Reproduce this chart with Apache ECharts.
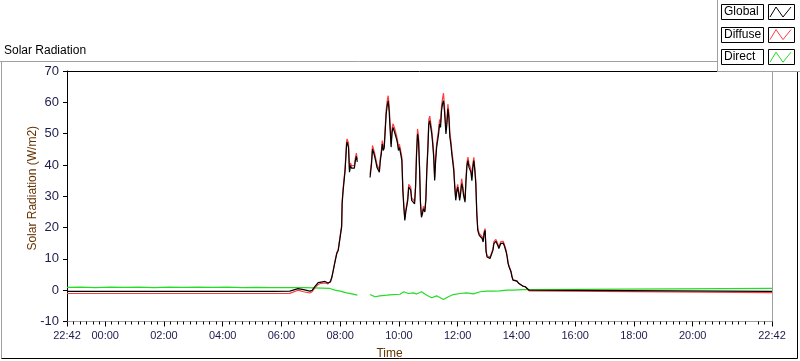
<!DOCTYPE html>
<html>
<head>
<meta charset="utf-8">
<script src="https://cdn.jsdelivr.net/npm/echarts@6/dist/echarts.min.js"></script>
<style>
  html, body { margin: 0; padding: 0; background: #fff; }
  #chart { width: 800px; height: 361px; }
</style>
</head>
<body>
<div id="chart"></div>
<script>
// sample times, minutes from midnight (22:42 of the day before = -78)
const globalTime = [-78, 343, 377, 394, 398, 405, 408, 418, 423, 429,
  435, 441, 449, 455, 460, 463, 466, 469, 473, 476,
  480, 483, 484, 486, 488, 490, 492, 493, 494, 497,
  499, 501, 503, 507, 509, 511, 513, 515, 528, 541,
  544, 546, 548, 550, 553, 555, 558, 560, 562, 564,
  566, 568, 570, 572, 574, 576, 578, 580, 582, 584,
  586, 588, 591, 593, 595, 597, 599, 601, 603, 606,
  608, 610, 612, 614, 616, 618, 620, 622, 624, 626,
  628, 630, 632, 634, 636, 638, 640, 642, 644, 646,
  648, 650, 653, 655, 657, 659, 661, 663, 665, 667,
  669, 671, 673, 675, 677, 679, 681, 683, 685, 687,
  689, 691, 693, 696, 698, 700, 702, 704, 706, 708,
  710, 712, 714, 716, 718, 720, 722, 724, 726, 728,
  730, 732, 735, 737, 739, 741, 743, 745, 747, 749,
  751, 753, 755, 757, 759, 761, 764, 766, 768, 770,
  772, 774, 776, 778, 780, 782, 784, 786, 788, 790,
  792, 794, 796, 798, 800, 802, 804, 806, 808, 811,
  813, 815, 817, 819, 821, 823, 825, 827, 829, 831,
  833, 837, 841, 845, 849, 853, 858, 862, 866, 870,
  1362];
const globalValues = [-0.35, -0.35, -0.3, 0.5, 0.2, 0.2, -0.4, -0.3, 0.0, 1.3,
  2.4, 2.6, 2.8, 2.3, 2.6, 4.2, 6.4, 8.7, 11.7, 12.7,
  17.0, 20.2, 27.6, 31.8, 35.0, 38.2, 43.5, 46.2, 47.3, 45.6,
  37.7, 39.8, 39.0, 39.3, 39.0, 41.4, 42.7, 41.0, null, 36.0,
  40.3, 45.1, 45.6, 43.0, 40.9, 39.3, 39.0, 37.7, 41.4, 43.5,
  46.7, 44.6, 45.5, 51.0, 56.3, 58.9, 60.5, 57.3, 51.5, 45.7,
  50.4, 52.0, 50.5, 49.4, 48.3, 47.0, 44.6, 45.6, 44.0, 41.4,
  31.8, 26.5, 22.3, 24.9, 25.0, 28.7, 32.9, 32.4, 32.0, 28.7,
  29.2, 28.7, 27.6, 32.9, 43.5, 49.9, 47.8, 39.3, 27.6, 23.3,
  24.4, 26.0, 25.0, 28.7, 38.2, 44.6, 53.1, 54.1, 52.0, 49.9,
  46.7, 42.5, 35.0, 41.4, 45.6, 46.0, 49.9, 53.1, 52.0, 57.3,
  59.5, 60.5, 57.3, 49.9, 53.1, 57.9, 55.2, 48.9, 46.7, 43.5,
  40.9, 38.2, 32.9, 28.7, 31.3, 32.9, 31.0, 28.7, 30.8, 34.0,
  32.9, 30.3, 28.1, 35.0, 39.8, 41.4, 39.3, 39.8, 37.7, 35.0,
  39.3, 41.4, 38.2, 34.0, 24.4, 19.1, 17.5, 17.0, 17.0, 16.5,
  15.4, 18.1, 19.1, 12.2, 10.6, 11.1, 10.6, 10.1, 9.6, 10.6,
  12.7, 14.9, 15.4, 15.6, 15.0, 14.3, 13.3, 13.8, 14.9, 15.0,
  15.0, 14.3, 13.8, 12.2, 10.6, 8.5, 7.4, 6.9, 5.8, 4.2,
  3.2, 3.4, 2.9, 2.1, 1.6, 1.3, 1.1, 0.5, 0.0, -0.4,
  -0.4];
// diffuse is sampled at the same times as global
const diffuseValues = [-1.05, -1.05, -1.0, 0.0, -0.3, -0.5, -0.9, -0.9, -0.4, 0.9,
  1.8, 2.2, 2.3, 2.0, 3.0, 4.0, 6.6, 9.0, 12.0, 13.0,
  17.5, 20.8, 28.5, 32.5, 35.8, 39.0, 44.5, 47.2, 48.3, 47.0,
  38.5, 40.6, 39.8, 40.2, 39.8, 42.2, 43.8, 41.8, null, 37.0,
  41.2, 46.2, 46.8, 44.0, 41.8, 40.2, 39.8, 38.5, 42.3, 44.5,
  47.8, 45.6, 46.5, 52.2, 57.6, 60.5, 62.1, 59.0, 52.8, 46.8,
  51.6, 53.2, 51.8, 50.6, 49.4, 48.0, 45.6, 46.6, 45.0, 42.4,
  32.6, 27.2, 22.9, 25.6, 25.7, 29.5, 33.8, 33.3, 32.9, 29.5,
  30.0, 29.5, 28.4, 33.8, 44.6, 51.5, 49.2, 40.3, 28.4, 24.0,
  25.1, 26.8, 25.8, 29.6, 39.2, 45.8, 54.5, 55.6, 53.4, 51.2,
  47.9, 43.6, 35.9, 42.5, 46.8, 47.2, 51.2, 54.5, 53.4, 58.8,
  61.2, 62.9, 59.0, 51.2, 54.5, 59.4, 56.7, 50.2, 47.9, 44.6,
  42.0, 39.2, 33.8, 29.5, 32.2, 33.8, 31.9, 29.5, 31.7, 35.6,
  33.8, 31.1, 28.9, 36.0, 40.9, 42.5, 40.4, 40.9, 38.7, 36.0,
  40.4, 42.4, 39.2, 35.0, 25.2, 19.7, 18.1, 17.6, 17.6, 17.1,
  15.9, 18.7, 19.7, 12.7, 11.0, 11.5, 11.0, 10.5, 10.0, 11.0,
  13.2, 15.5, 16.0, 16.2, 15.6, 14.8, 13.8, 14.3, 15.5, 15.6,
  15.6, 14.8, 14.3, 12.7, 11.0, 8.8, 7.7, 7.1, 6.0, 4.4,
  3.3, 3.5, 3.0, 2.2, 1.7, 1.3, 1.1, 0.5, -0.2, -0.75,
  -0.75];
const directTime = [-78, -50, -20, 10, 40, 70, 100, 130, 160, 190, 220, 250, 280, 310, 340, 370,
  408, 412, 459, 469, 480, 493, 504, 515, 528,
  541, 551, 561, 575, 588, 602, 610, 619, 629, 636,
  646, 657, 667, 677, 691, 701, 711, 725, 738, 752,
  766, 779, 793, 806, 820, 834, 853, 868, 871, 1362];
const directValues = [0.9, 1.0, 0.85, 0.95, 0.9, 1.0, 0.85, 0.95, 0.9, 1.0, 0.9, 0.95, 0.85, 0.9, 0.85, 0.85,
  0.85, 0.6, 0.55, 0.0, -0.3, -0.85, -1.2, -1.6, null,
  -1.4, -2.1, -1.8, -1.6, -1.4, -1.3, -0.5, -1.05, -0.85, -1.2,
  -0.5, -1.6, -2.4, -1.8, -3.0, -2.1, -1.4, -1.05, -0.85, -1.2,
  -0.5, -0.3, -0.3, -0.2, 0.0, 0.0, 0.2, 0.2, 0.55, 0.55];

const xTickMinutes = [-78, 0, 120, 240, 360, 480, 600, 720, 840, 960, 1080, 1200, 1362];
const xTickLabels = ['22:42', '00:00', '02:00', '04:00', '06:00', '08:00', '10:00',
  '12:00', '14:00', '16:00', '18:00', '20:00', '22:42'];
const legendNames = ['Global', 'Diffuse', 'Direct'];
const legendColors = ['#000000', '#ff3b3b', '#22dd22'];

// minor ticks: 8 between the labelled ones
const minorTicks = [];
for (let k = 1; k <= 5; k++) minorTicks.push(-78 + k * 40 / 3);
for (let k = 1; k * 40 / 3 < 1355; k++) if (k % 9) minorTicks.push(k * 40 / 3);

function pairs(times, vals) {
  return times.map((t, i) => [t, vals[i] == null ? '-' : vals[i]]);
}

const font = 'Liberation Sans';
const labelColor = '#1c1c4c';
const nameColor = '#663300';

// legend boxes drawn top right
const legendGraphics = [
  { type: 'rect', shape: { x: 717, y: 0, width: 83, height: 72 }, style: { fill: '#fff' }, z: 100 },
  { type: 'line', shape: { x1: 717.5, y1: 0, x2: 717.5, y2: 72 }, style: { stroke: '#a0a0a0', lineWidth: 1 }, z: 101 },
  { type: 'line', shape: { x1: 717.5, y1: 71.5, x2: 800, y2: 71.5 }, style: { stroke: '#a0a0a0', lineWidth: 1 }, z: 101 }
];
legendNames.forEach((name, i) => {
  const y0 = 4 + i * 22.6;
  legendGraphics.push(
    { type: 'rect', shape: { x: 721.5, y: Math.round(y0) + 0.5, width: 42, height: 15 },
      style: { fill: '#fff', stroke: '#000', lineWidth: 1 }, z: 102 },
    { type: 'text', x: 724, y: Math.round(y0) + 8,
      style: { text: name, font: '12px "' + font + '"', fill: '#000', textVerticalAlign: 'middle' }, z: 103 },
    { type: 'rect', shape: { x: 768.5, y: Math.round(y0) + 0.5, width: 26, height: 15 },
      style: { fill: '#fff', stroke: '#000', lineWidth: 1 }, z: 102 },
    { type: 'polyline', shape: { points: [[770, y0 + 13], [776, y0 + 3], [783, y0 + 13], [791, y0 + 3]] },
      style: { stroke: legendColors[i], lineWidth: 1, fill: null }, z: 103 }
  );
});

const chart = echarts.init(document.getElementById('chart'));
chart.setOption({
  animation: false,
  backgroundColor: '#fff',
  title: {
    text: 'Solar Radiation',
    left: 4, top: 45,
    padding: 0,
    textStyle: { fontFamily: font, fontSize: 12, fontWeight: 'normal', color: '#000' }
  },
  grid: { left: 67, top: 71, width: 705, height: 250.5, outerBoundsMode: 'none', containLabel: false },
  xAxis: [{
    type: 'value',
    min: -78, max: 1362,
    position: 'bottom',
    offset: 0,
    name: 'Time',
    nameLocation: 'middle',
    nameGap: 26,
    nameMoveOverlap: false,
    nameTextStyle: { fontFamily: font, fontSize: 12, color: nameColor, padding: [0, 60, 0, 0] },
    axisLine: { onZero: false, lineStyle: { color: '#a0a0a0', width: 1 } },
    axisTick: { customValues: xTickMinutes, length: 5, lineStyle: { color: '#000' } },
    axisLabel: {
      customValues: xTickMinutes,
      margin: 9,
      fontFamily: font, fontSize: 11, color: labelColor,
      formatter: v => xTickLabels[xTickMinutes.indexOf(v)]
    },
    splitLine: { show: false }
  }, {
    type: 'value',
    min: -78, max: 1362,
    position: 'bottom',
    offset: 0,
    axisLine: { show: false, onZero: false },
    axisTick: { customValues: minorTicks, length: 3, lineStyle: { color: '#000' } },
    axisLabel: { show: false },
    splitLine: { show: false }
  }],
  yAxis: {
    type: 'value',
    min: -10, max: 70, interval: 10,
    position: 'left',
    name: 'Solar Radiation (W/m2)',
    nameLocation: 'middle',
    nameRotate: 90,
    nameGap: 28,
    nameMoveOverlap: false,
    nameTextStyle: { fontFamily: font, fontSize: 12, color: nameColor, padding: [0, 0, 0, 16] },
    axisLine: { show: true, onZero: false, lineStyle: { color: '#000', width: 1 } },
    axisTick: { show: true, length: 4, lineStyle: { color: '#000' } },
    axisLabel: { margin: 8, fontFamily: font, fontSize: 13, color: labelColor },
    splitLine: { show: false }
  },
  series: [
    {
      name: 'Direct', type: 'line', showSymbol: false, symbol: 'none', z: 2,
      data: pairs(directTime, directValues),
      lineStyle: { color: legendColors[2], width: 1.2 }
    },
    {
      name: 'Diffuse', type: 'line', showSymbol: false, symbol: 'none', z: 3,
      data: pairs(globalTime, diffuseValues),
      lineStyle: { color: legendColors[1], width: 1.2 }
    },
    {
      name: 'Global', type: 'line', showSymbol: false, symbol: 'none', z: 4,
      data: pairs(globalTime, globalValues),
      lineStyle: { color: legendColors[0], width: 1.2 }
    }
  ],
  graphic: [
    // panel frame
    { type: 'line', shape: { x1: 0, y1: 61.5, x2: 717, y2: 61.5 }, style: { stroke: '#a0a0a0', lineWidth: 1 } },
    { type: 'line', shape: { x1: 1.5, y1: 61.5, x2: 1.5, y2: 358.5 }, style: { stroke: '#a0a0a0', lineWidth: 1 } },
    { type: 'line', shape: { x1: 1.5, y1: 358.5, x2: 797.5, y2: 358.5 }, style: { stroke: '#000', lineWidth: 1 } },
    { type: 'line', shape: { x1: 797.5, y1: 72, x2: 797.5, y2: 358.5 }, style: { stroke: '#000', lineWidth: 1 } },
    // plot frame top and right
    { type: 'line', shape: { x1: 67, y1: 71.5, x2: 772, y2: 71.5 }, style: { stroke: '#000', lineWidth: 1 } },
    { type: 'line', shape: { x1: 772.5, y1: 71, x2: 772.5, y2: 321.5 }, style: { stroke: '#a0a0a0', lineWidth: 1 } }
  ].concat(legendGraphics)
});
</script>
</body>
</html>
